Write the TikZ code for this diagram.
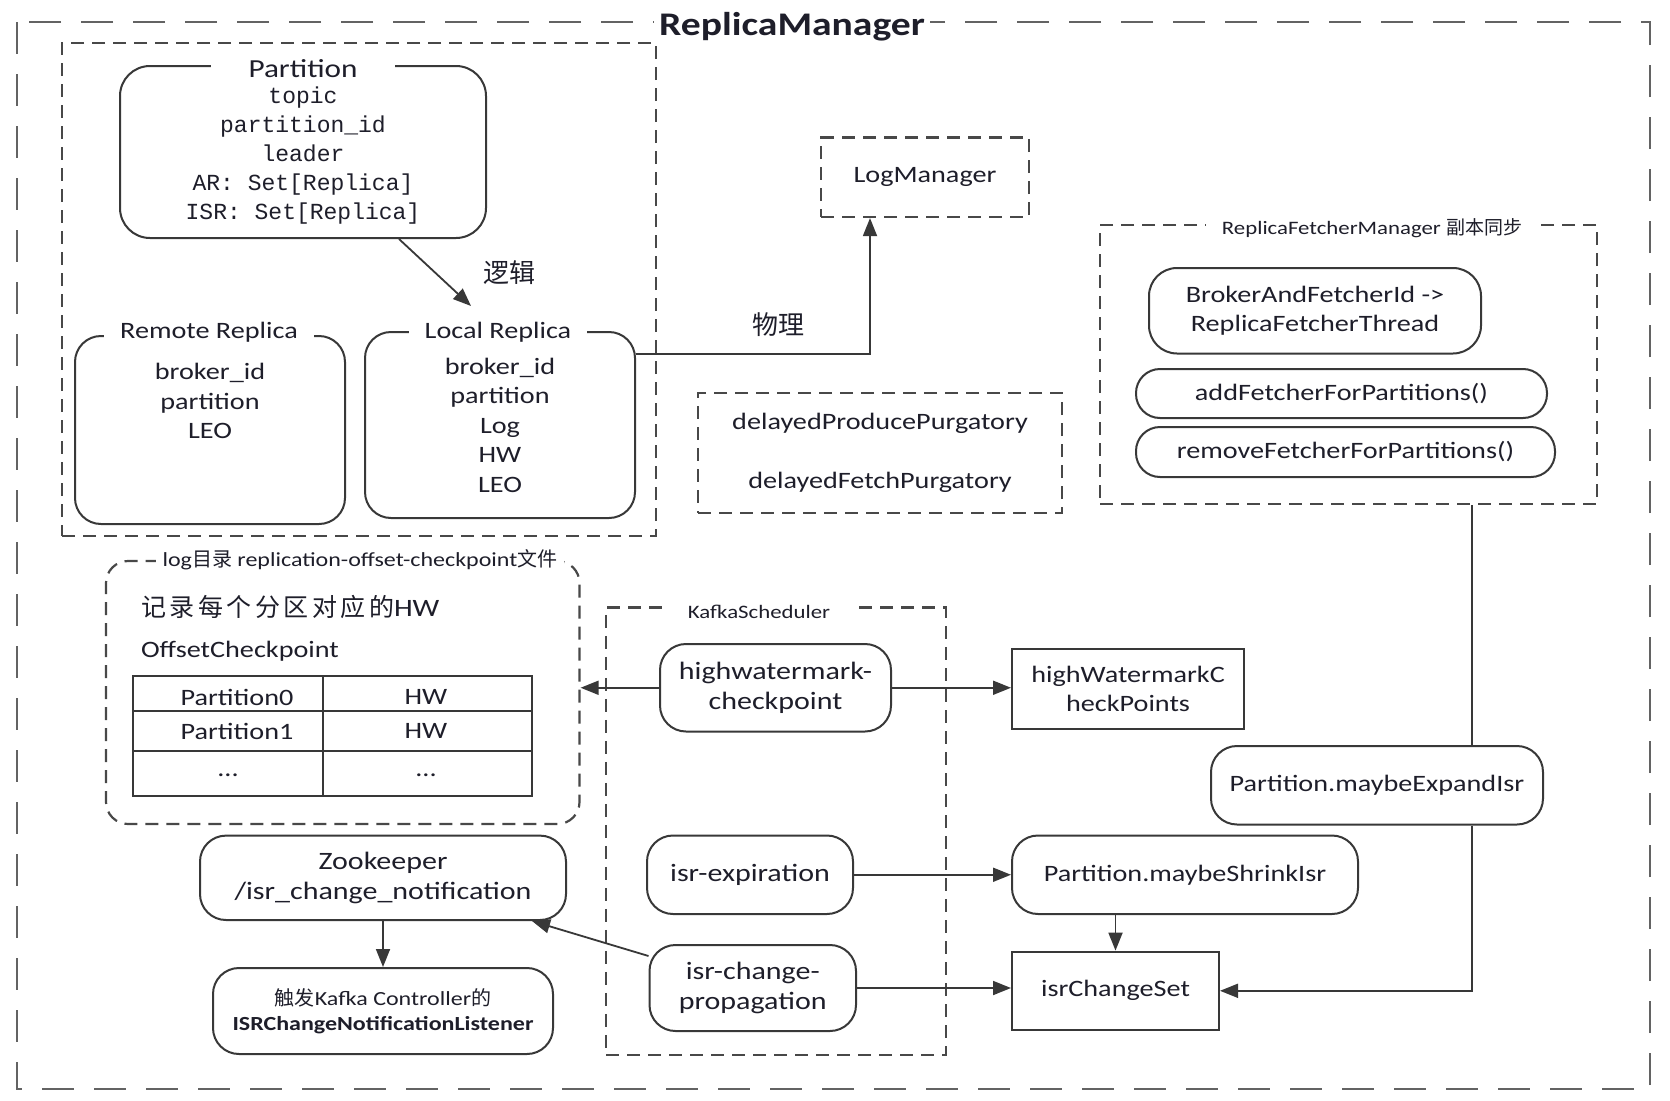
\documentclass[tikz,border=0pt]{standalone}
\usepackage{fontspec}
\setmainfont{Carlito}[FakeStretch=1.2]
\newfontfamily\zhfont{Noto Sans CJK SC}
\newfontfamily\zhwide{Noto Sans CJK SC}[LetterSpace=14]
\newfontfamily\fieldfont{Liberation Mono}
\usetikzlibrary{arrows.meta}

\definecolor{ink}{HTML}{1E1E2A}
\definecolor{ln}{HTML}{383838}
\definecolor{dl}{HTML}{484848}

\newcommand\fsz[2]{\fontsize{#1}{#2}\selectfont}

\tikzset{
  every node/.style={text=ink, font=\fsz{23.5}{29.5}},
  rbox/.style={draw=ln, line width=2pt, rounded corners=26pt, inner sep=0pt, align=center},
  sqbox/.style={draw=ln, line width=2pt, inner sep=0pt, align=center},
  dbox/.style={draw=dl, line width=2.2pt, dash pattern=on 13pt off 8pt, inner sep=0pt, align=center},
  frame/.style={draw=dl!85!white, line width=2.6pt, dash pattern=on 32pt off 20pt},
  ttl/.style={fill=white, inner ysep=1pt},
  small/.style={font=\fsz{19}{23}},
  big/.style={font=\fsz{25}{29.5}},
  conn/.style={draw=ln, line width=1.8pt},
  arr/.style={conn, -{Triangle[length=18pt,width=14pt]}},
  tbl/.style={draw=ln, line width=2pt},
}

\begin{document}
\begin{tikzpicture}[x=1pt, y=-1pt]
\useasboundingbox (0,0) rectangle (1670,1100);
\fill[white] (0,0) rectangle (1670,1100);

% outer frame of the replica manager
\draw[frame] (17,22) rectangle (1650,1089);
\node[fill=white, inner xsep=5pt, inner ysep=1pt, font=\bfseries\fsz{33}{36}] (rmtitle) at (792,27) {ReplicaManager};

% partition group
\node[dbox, minimum width=594pt, minimum height=493pt] (pgroup) at (359,289.5) {};
\node[rbox, rounded corners=30pt, minimum width=366pt, minimum height=172pt] (part) at (303,152) {};
\node[fill=white, inner ysep=0pt, inner xsep=38pt, font=\fsz{26}{28}] (parttitle) at (303,69) {Partition};
\node[align=center, font=\fieldfont\fsz{23}{29}] (partfields) at (303,156) {topic\\partition\_id\\leader\\AR: Set[Replica]\\ISR: Set[Replica]};

\node[rbox, minimum width=270pt, minimum height=188pt] (remote) at (210,430) {};
\node[ttl, inner xsep=16pt] (remotetitle) at (209,332) {Remote Replica};
\node[align=center] (remotefields) at (210,401) {broker\_id\\partition\\LEO};

\node[rbox, minimum width=270pt, minimum height=186pt] (local) at (500,425) {};
\node[ttl, inner xsep=16pt] (localtitle) at (498,332) {Local Replica};
\node[align=center] (localfields) at (500,425) {broker\_id\\partition\\Log\\HW\\LEO};

\coordinate (lrtip) at (471,306);
\draw[arr] ([xshift=96pt]part.south) -- (lrtip);
\node[font=\zhfont\fsz{26}{30}] (logiclab) at (509,273) {逻辑};

% log manager and purgatories
\node[dbox, minimum width=208pt, minimum height=79.5pt] (logmgr) at (925,177.25) {LogManager};
\draw[arr] ([yshift=71.4pt]local.east) -| ([xshift=-55pt]logmgr.south);
\node[font=\zhfont\fsz{26}{30}] (physlab) at (778,325) {物理};

\node[dbox, minimum width=364pt, minimum height=120pt, font=\fsz{23.5}{59}] (purg) at (880,453) {delayedProducePurgatory\\delayedFetchPurgatory};

% replica fetcher manager
\node[dbox, minimum width=497pt, minimum height=279pt] (rfm) at (1348.5,364.5) {};
\node[ttl, small, inner xsep=16pt] (rfmtitle) at (1372,228.5) {ReplicaFetcherManager {\zhfont 副本同步}};
\node[rbox, rounded corners=28pt, minimum width=332pt, minimum height=85.5pt] (broker) at (1315,310.75) {BrokerAndFetcherId ->\\ReplicaFetcherThread};
\node[rbox, rounded corners=24pt, minimum width=411pt, minimum height=49pt] (addf) at (1341.5,393.5) {addFetcherForPartitions()};
\node[rbox, rounded corners=24pt, minimum width=419pt, minimum height=50pt] (remf) at (1345.5,452) {removeFetcherForPartitions()};

% checkpoint file
\node[dbox, rounded corners=22pt, minimum width=473.5pt, minimum height=263pt] (logdir) at (342.75,692.5) {};
\node[ttl, font=\fsz{20}{24}, inner xsep=7pt] (logdirtitle) at (360,559.6) {log{\zhfont 目录} replication-offset-checkpoint{\zhfont 文件}};
\node[anchor=west, font=\zhwide\fsz{25}{30}] (hwnote) at (137.5,607) {记录每个分区对应的{\rmfamily HW}};
\node[anchor=west] (ocp) at (137.5,651) {OffsetCheckpoint};
\draw[tbl] (133,676) rectangle (532,796);
\draw[tbl] (323,676) -- (323,796);
\draw[tbl] (133,710.6) -- (532,710.6);
\draw[tbl] (133,751) -- (532,751);
\node (c11) at (237,697) {Partition0};
\node (c12) at (426,697) {HW};
\node (c21) at (237,731) {Partition1};
\node (c22) at (426,731) {HW};
\node (c31) at (228,775) {...};
\node (c32) at (426,775) {...};

% kafka scheduler
\node[dbox, minimum width=339.6pt, minimum height=447.5pt] (ks) at (775.8,831.25) {};
\node[ttl, small, inner xsep=22pt] (kstitle) at (759,611.7) {KafkaScheduler};
\node[rbox, big, minimum width=231pt, minimum height=87.5pt] (hwc) at (775.5,687.75) {highwatermark-\\checkpoint};
\node[rbox, big, minimum width=206pt, minimum height=78.5pt] (isrexp) at (750,874.75) {isr-expiration};
\node[rbox, big, minimum width=206.5pt, minimum height=86pt] (isrcp) at (752.75,988) {isr-change-\\propagation};

\node[sqbox, minimum width=232pt, minimum height=80pt] (hwcp) at (1128,689) {highWatermarkC\\heckPoints};
\node[rbox, minimum width=332pt, minimum height=78.5pt] (expand) at (1377,785.25) {Partition.maybeExpandIsr};
\node[rbox, minimum width=346pt, minimum height=78.5pt] (shrink) at (1185,874.75) {Partition.maybeShrinkIsr};
\node[sqbox, minimum width=207pt, minimum height=78.4pt] (ics) at (1115.5,990.8) {isrChangeSet};

% zookeeper notification
\node[rbox, big, minimum width=366pt, minimum height=84.4pt] (zk) at (383,877.8) {Zookeeper\\/isr\_change\_notification};
\node[rbox, minimum width=340pt, minimum height=86pt, font=\fsz{20}{25}] (trig) at (383,1011) {{\zhfont 触发}Kafka Controller{\zhfont 的}\\\textbf{ISRChangeNotificationListener}};

% connectors
\draw[arr] (hwc.west) -- (hwc.west -| logdir.east);
\draw[arr] (hwc.east) -- (hwc.east -| hwcp.west);
\draw[arr] (isrexp.east) -- (isrexp.east -| shrink.west);
\draw[arr] (ics.north |- shrink.south) -- (ics.north);
\draw[arr] (isrcp.east) -- (isrcp.east -| ics.west);
\draw[arr] ([yshift=32pt]isrcp.west) -- ([xshift=-35pt]zk.south east);
\draw[arr] (zk.south) -- (trig.north);
\coordinate (uptop) at ([xshift=95pt]expand.north);
\coordinate (upbot) at ([xshift=95pt]expand.south);
\draw[conn] (uptop |- rfm.south) -- (uptop);
\draw[arr] (upbot) |- (ics.east);
\end{tikzpicture}
\end{document}
